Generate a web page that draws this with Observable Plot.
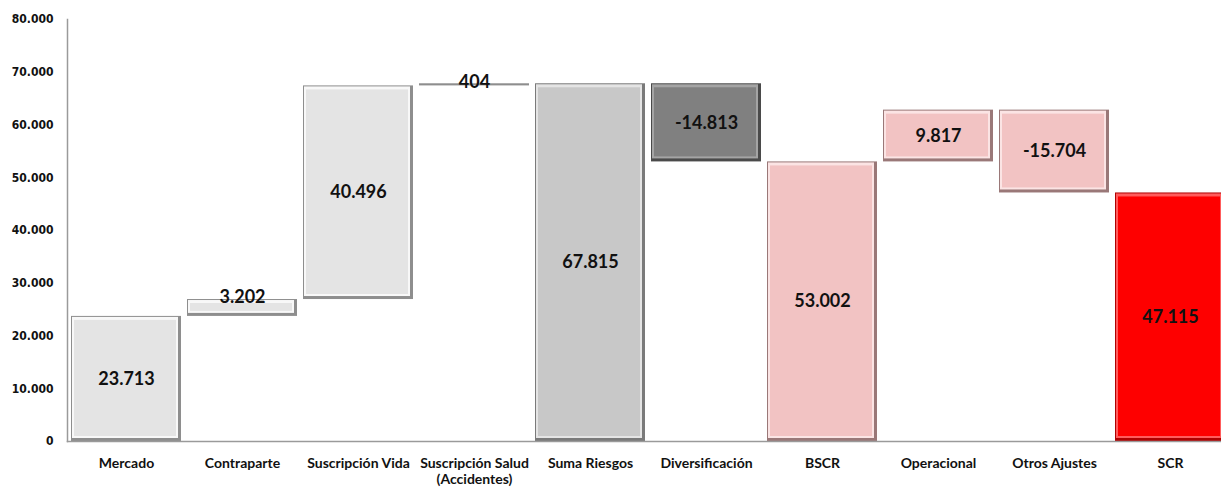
<!DOCTYPE html>
<html>
<head>
<meta charset="utf-8">
<script src="https://cdn.jsdelivr.net/npm/d3@7"></script>
<script src="https://cdn.jsdelivr.net/npm/@observablehq/plot@0.6"></script>
<style>
  html, body { margin: 0; padding: 0; background: #fff; overflow: hidden; }
  #chart svg { display: block; }
</style>
</head>
<body>
<div id="chart"></div>
<script>
// ---- data ----
const categories = ["Mercado", "Contraparte", "Suscripción Vida", "Suscripción Salud (Accidentes)", "Suma Riesgos", "Diversificación", "BSCR", "Operacional", "Otros Ajustes", "SCR"];
const tickLabels = ["Mercado", "Contraparte", "Suscripción Vida", "Suscripción Salud\n(Accidentes)", "Suma Riesgos", "Diversificación", "BSCR", "Operacional", "Otros Ajustes", "SCR"];
const values = [23713, 3202, 40496, 404, 67815, -14813, 53002, 9817, -15704, 47115];
const kinds = ["step", "step", "step", "step", "total", "step", "total", "step", "step", "total"];
const groups = ["riesgo", "riesgo", "riesgo", "riesgo", "suma", "diversificacion", "ajuste", "ajuste", "ajuste", "scr"];
const yTicks = [0, 10000, 20000, 30000, 40000, 50000, 60000, 70000, 80000];

// ---- style ----
const palette = {
  riesgo: {main: "#e4e4e4", hi: "#f8f8f8", lo: "#8e8e8e"},
  suma: {main: "#c8c8c8", hi: "#e4e4e4", lo: "#7a7a7a"},
  diversificacion: {main: "#808080", hi: "#a4a4a4", lo: "#4a4a4a"},
  ajuste: {main: "#f2c3c3", hi: "#fbe4e4", lo: "#9a7878"},
  scr: {main: "#fe0000", hi: "#ff5c5c", lo: "#b00000"}
};

const fmt = d3.formatLocale({decimal: ",", thousands: ".", grouping: [3], currency: ["", ""], minus: "-"}).format(",d");

let run = 0;
const rows = categories.map((cat, i) => {
  const v = values[i];
  let lo, hi;
  if (kinds[i] === "total") { lo = 0; hi = v; run = v; }
  else { const s = run; run = s + v; lo = Math.min(s, run); hi = Math.max(s, run); }
  const small = (hi - lo) < 5000;
  return {cat, v, lo, hi, group: groups[i], small, ly: small ? hi : (lo + hi) / 2};
});
const tickMap = new Map(categories.map((c, i) => [c, tickLabels[i]]));

const chart = Plot.plot({
  width: 1221,
  height: 488,
  marginTop: 19,
  marginBottom: 47,
  marginLeft: 67,
  marginRight: 0,
  style: {background: "#fff"},
  x: {domain: categories, range: [67, 1230], paddingInner: 0.05, paddingOuter: 0.025, align: 0.5},
  y: {domain: [0, 80000]},
  marks: [
    Plot.barY(rows, {x: "cat", y1: "lo", y2: "hi", fill: d => palette[d.group].lo}),
    Plot.barY(rows, {x: "cat", y1: "lo", y2: "hi", fill: d => palette[d.group].hi, insetLeft: 1, insetTop: 1, insetRight: 3, insetBottom: 3}),
    Plot.barY(rows, {x: "cat", y1: "lo", y2: "hi", fill: d => palette[d.group].main, insetLeft: 3, insetTop: 4, insetRight: 5, insetBottom: 5}),
    Plot.frame({anchor: "left", stroke: "#9a9a9a", strokeWidth: 1.5}),
    Plot.frame({anchor: "bottom", stroke: "#9a9a9a", strokeWidth: 1.5}),
    Plot.axisY({ticks: yTicks, tickFormat: fmt, tickSize: 0, tickPadding: 14, label: null,
      fontFamily: "'DejaVu Sans Condensed', 'DejaVu Sans', sans-serif", fontWeight: "bold", fontSize: 12, fill: "#111"}),
    Plot.axisX({tickSize: 0, tickPadding: 15, label: null, tickFormat: d => tickMap.get(d), lineHeight: 1.15,
      fontFamily: "Lato, sans-serif", fontWeight: "bold", fontSize: 14, fill: "#111", textOverflow: null}),
    Plot.text(rows.filter(d => !d.small), {x: "cat", y: "ly", text: d => fmt(d.v),
      fontFamily: "Lato, sans-serif", fontWeight: "bold", fontSize: 18, fill: "#111"}),
    Plot.text(rows.filter(d => d.small), {x: "cat", y: "ly", text: d => fmt(d.v), dy: -2,
      fontFamily: "Lato, sans-serif", fontWeight: "bold", fontSize: 18, fill: "#111"})
  ]
});
document.getElementById("chart").appendChild(chart);
</script>
</body>
</html>
